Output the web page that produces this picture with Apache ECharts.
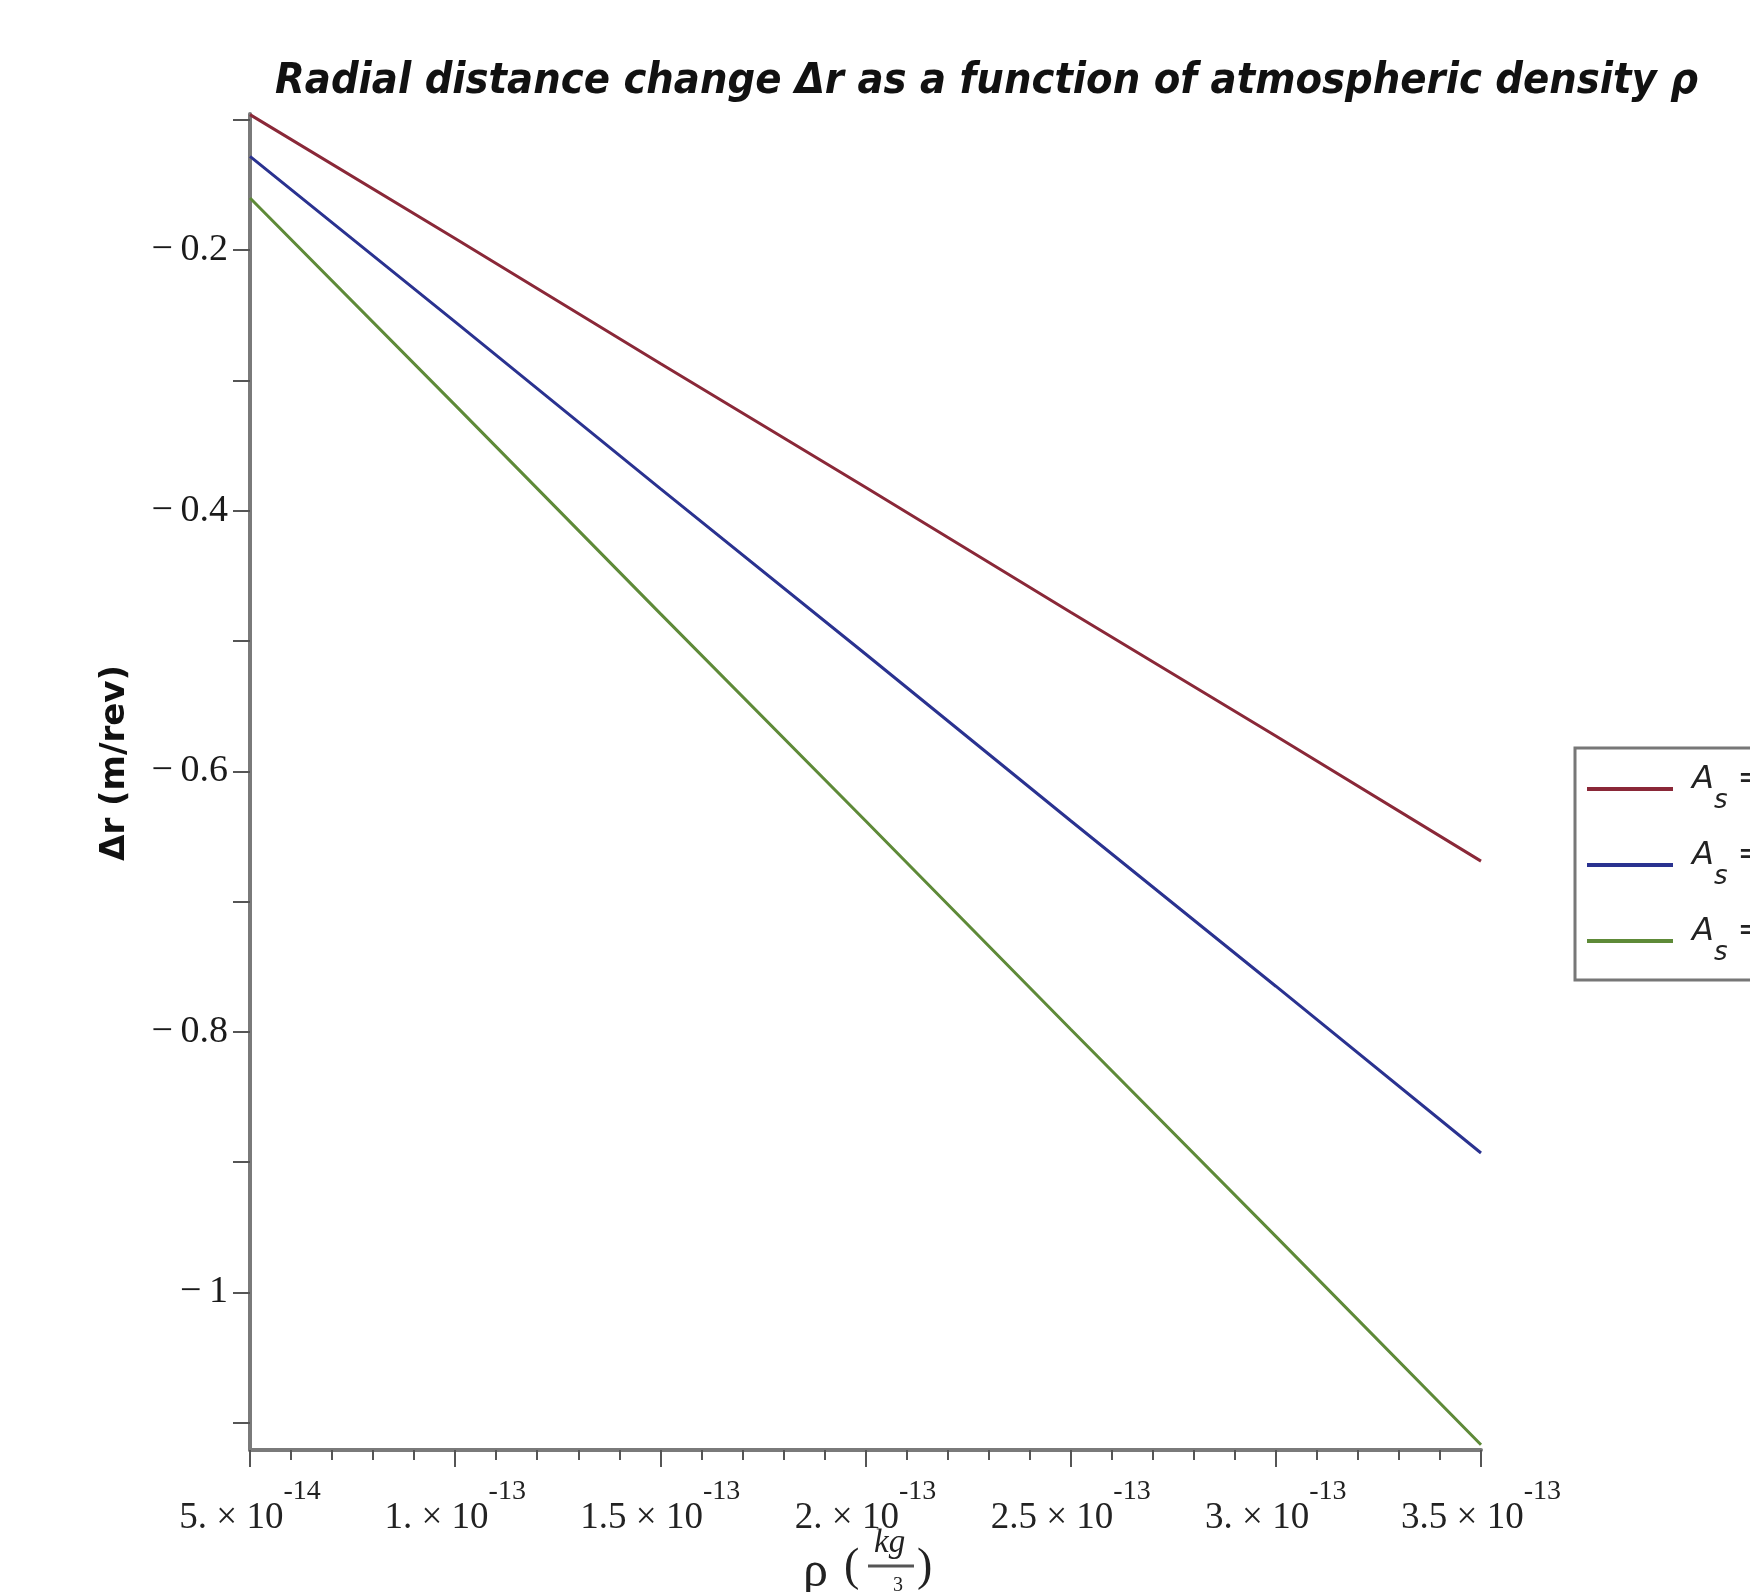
<!DOCTYPE html>
<html>
<head>
<meta charset="utf-8">
<script src="https://cdn.jsdelivr.net/npm/echarts@6/dist/echarts.min.js"></script>
<style>
  html, body { margin: 0; padding: 0; background: #fff; overflow: hidden; }
  #main { width: 1750px; height: 1592px; }
</style>
</head>
<body>
<div id="main"></div>
<script>
// density values (kg/m^3) at the major ticks
var rho = [5e-14, 1e-13, 1.5e-13, 2e-13, 2.5e-13, 3e-13, 3.5e-13];

// delta r (m/rev)
var drRed   = [-0.096, -0.191, -0.287, -0.382, -0.478, -0.573, -0.669];
var drBlue  = [-0.128, -0.255, -0.383, -0.510, -0.638, -0.765, -0.893];
var drGreen = [-0.160, -0.319, -0.479, -0.638, -0.798, -0.957, -1.117];

var seriesNames = ['As1', 'As2', 'As3'];
var colors = ['#8a2838', '#2a3290', '#5e8a38'];

var yLabelValues = [-1, -0.8, -0.6, -0.4, -0.2];
var yTickValues = [-1.1, -1, -0.9, -0.8, -0.7, -0.6, -0.5, -0.4, -0.3, -0.2, -0.1];

function pairs(xs, ys) {
  return xs.map(function (x, i) { return [x, ys[i]]; });
}

function sciLabel(v) {
  var e = Math.floor(Math.log10(v) + 1e-9);
  var m = Math.round(v / Math.pow(10, e) * 10) / 10;
  var ms = (m % 1 === 0) ? (m + '.') : String(m);
  return '{m|' + ms + ' \u00d7 10}{s|-' + Math.abs(e) + '}';
}

var chart = echarts.init(document.getElementById('main'));

var serif = "'Liberation Serif', serif";

var option = {
  backgroundColor: '#ffffff',
  animation: false,
  color: colors,
  title: {
    text: 'Radial distance change \u0394r as a function of atmospheric density \u03c1',
    left: 270,
    top: 55,
    textStyle: {
      fontFamily: "'DejaVu Sans Condensed', 'DejaVu Sans', sans-serif",
      fontStyle: 'italic',
      fontWeight: 'bold',
      fontSize: 43,
      color: '#111'
    }
  },
  legend: {
    left: 1575,
    top: 748,
    orient: 'vertical',
    icon: 'rect',
    itemWidth: 86,
    itemHeight: 4,
    itemGap: 26,
    padding: [16, 200, 14, 12],
    borderColor: '#777',
    borderWidth: 3,
    data: seriesNames,
    formatter: function () {
      return '{a|A}{s|s}{e| =}';
    },
    textStyle: {
      rich: {
        a: { fontFamily: 'DejaVu Sans', fontStyle: 'italic', fontSize: 32, color: '#222', lineHeight: 50, verticalAlign: 'top', padding: [0, 0, 0, 14] },
        s: { fontFamily: 'DejaVu Sans', fontStyle: 'italic', fontSize: 26, color: '#222', lineHeight: 26, verticalAlign: 'bottom' },
        e: { fontFamily: 'DejaVu Sans', fontSize: 32, color: '#222', lineHeight: 50, verticalAlign: 'top' }
      }
    }
  },
  grid: {
    left: 250,
    right: 269,
    top: 114,
    bottom: 142
  },
  xAxis: {
    type: 'value',
    min: 5e-14,
    max: 3.5e-13,
    interval: 5e-14,
    axisLine: { show: true, onZero: false, lineStyle: { color: '#7a7a7a', width: 4 } },
    axisTick: { show: true, length: 17, lineStyle: { color: '#555', width: 2 } },
    minorTick: { show: true, splitNumber: 5, length: 10, lineStyle: { color: '#555', width: 2 } },
    splitLine: { show: false },
    axisLabel: {
      margin: 28,
      formatter: sciLabel,
      rich: {
        m: { fontFamily: serif, fontSize: 37, color: '#222', lineHeight: 80, verticalAlign: 'middle' },
        s: { fontFamily: serif, fontSize: 28, color: '#222', lineHeight: 26, verticalAlign: 'top' }
      }
    }
  },
  yAxis: {
    type: 'value',
    min: -1.121,
    max: -0.0955,
    name: '\u0394r (m/rev)',
    nameLocation: 'middle',
    nameRotate: 90,
    nameGap: 118,
    nameTextStyle: {
      fontFamily: 'DejaVu Sans',
      fontWeight: 'bold',
      fontSize: 34,
      color: '#111',
      padding: [0, 0, 0, 38]
    },
    axisLine: { show: true, onZero: false, lineStyle: { color: '#7a7a7a', width: 4 } },
    axisTick: { show: true, length: 17, customValues: yTickValues, lineStyle: { color: '#555', width: 2 } },
    splitLine: { show: false },
    axisLabel: {
      margin: 22,
      customValues: yLabelValues,
      fontFamily: serif,
      fontSize: 38,
      color: '#1a1a1a',
      formatter: function (v) {
        return '\u2212\u2009' + String(Math.abs(Math.round(v * 10) / 10));
      }
    }
  },
  graphic: [
    { type: 'text', left: 803, top: 1548, style: { text: '\u03c1', font: '50px "Liberation Serif", serif', fill: '#222' } },
    { type: 'text', left: 844, top: 1545, style: { text: '(', font: '46px "Liberation Serif", serif', fill: '#222' } },
    { type: 'text', left: 874, top: 1527, style: { text: 'kg', font: 'italic 33px "Liberation Serif", serif', fill: '#222' } },
    { type: 'line', shape: { x1: 868, y1: 1566, x2: 914, y2: 1566 }, style: { stroke: '#555', lineWidth: 3 } },
    { type: 'text', left: 872, top: 1592, style: { text: 'm', font: 'italic 30px "Liberation Serif", serif', fill: '#222' } },
    { type: 'text', left: 893, top: 1576, style: { text: '3', font: '20px "Liberation Serif", serif', fill: '#222' } },
    { type: 'text', left: 917, top: 1545, style: { text: ')', font: '46px "Liberation Serif", serif', fill: '#222' } }
  ],
  series: [
    { name: seriesNames[0], type: 'line', showSymbol: false, symbol: 'none', data: pairs(rho, drRed), lineStyle: { width: 3 } },
    { name: seriesNames[1], type: 'line', showSymbol: false, symbol: 'none', data: pairs(rho, drBlue), lineStyle: { width: 3 } },
    { name: seriesNames[2], type: 'line', showSymbol: false, symbol: 'none', data: pairs(rho, drGreen), lineStyle: { width: 3 } }
  ]
};

chart.setOption(option);
</script>
</body>
</html>
